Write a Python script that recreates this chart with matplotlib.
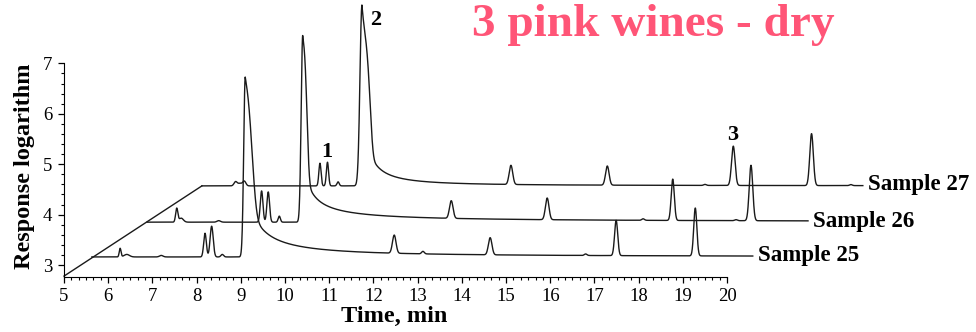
import matplotlib.pyplot as plt
import numpy as np

plt.rcParams["font.family"] = ["Liberation Serif", "DejaVu Serif"]

# --- data (plot coordinates, already shifted) ---
samples = ["Sample 25", "Sample 26", "Sample 27"]
t_start = [5.63, 6.88, 8.12]
t_end = [20.58, 21.83, 23.07]
baseline = [3.16, 3.85, 4.57]

# small peaks: (time, height above baseline, width)
peaks_25 = [(6.27, 0.17, 0.02), (6.42, 0.05, 0.06), (7.20, 0.03, 0.04),
            (8.19, 0.47, 0.03), (8.34, 0.61, 0.035), (8.58, 0.05, 0.03),
            (12.47, 0.36, 0.04), (13.12, 0.05, 0.03), (14.64, 0.34, 0.04),
            (16.80, 0.03, 0.03), (17.49, 0.70, 0.035), (19.28, 0.95, 0.035)]
peaks_26 = [(7.55, 0.27, 0.025), (7.65, 0.08, 0.05), (8.50, 0.03, 0.04),
            (9.47, 0.62, 0.03), (9.62, 0.60, 0.03), (9.87, 0.12, 0.025),
            (13.76, 0.35, 0.04), (15.93, 0.43, 0.04), (18.10, 0.03, 0.03),
            (18.77, 0.82, 0.035), (20.20, 0.02, 0.03), (20.54, 1.10, 0.04)]
peaks_27 = [(8.88, 0.08, 0.035), (8.98, 0.05, 0.05), (9.08, 0.09, 0.035),
            (10.79, 0.45, 0.025), (10.96, 0.47, 0.025), (11.20, 0.08, 0.025),
            (15.11, 0.38, 0.04), (17.29, 0.38, 0.04), (19.50, 0.02, 0.03),
            (20.14, 0.78, 0.04), (21.91, 1.03, 0.04), (22.80, 0.02, 0.03)]

# big tailing peaks: time, height, left width, right width, right exponent,
# tail height, tail scale, tail power
big_25 = (9.10, 3.57, 0.035, 0.147, 2.7, 1.5, 0.30, 1.2)
big_26 = (10.40, 3.71, 0.035, 0.09, 3.0, 1.3, 0.15, 0.9)
big_27 = (11.74, 3.59, 0.045, 0.17, 4.0, 1.6, 0.20, 1.4)

# perspective line from axis corner to start of the back trace
diag_x = [5.0, 8.12]
diag_y = [2.78, 4.57]

marks = ["1", "2", "3"]
mark_x = [10.95, 12.06, 20.13]
mark_y = [5.25, 7.86, 5.58]


def trace(t, base, peaks, big):
    y = np.full_like(t, base)
    for rt, h, w in peaks:
        y += h * np.exp(-0.5 * ((t - rt) / w) ** 2)
    rt, h, wl, wr, q, ta, tt, p = big
    d = t - rt
    dr = np.clip(d, 0, None)
    left = h * np.exp(-0.5 * (d / wl) ** 2)
    right = (h - ta) * np.exp(-0.5 * (dr / wr) ** q) + ta * (tt / (tt + dr)) ** p
    y += np.where(d < 0, left, right)
    return y


fig = plt.figure(figsize=(9.76, 3.32), dpi=100)
ax = fig.add_axes([64 / 976, 55.5 / 332, 912 / 976, 276.5 / 332])
ax.set_xlim(5, 25.63)
ax.set_ylim(2.772, 8.258)

peaks_all = [peaks_25, peaks_26, peaks_27]
big_all = [big_25, big_26, big_27]
for i in range(3):
    t = np.linspace(t_start[i], t_end[i], 4000)
    y = trace(t, baseline[i], peaks_all[i], big_all[i])
    ax.plot(t, y, color="#1a1a1a", lw=1.0, clip_on=False)
    ax.text(t_end[i] + 0.12, baseline[i] + 0.02, samples[i], fontsize=16.5,
            fontweight="bold", ha="left", va="center")

ax.plot(diag_x, diag_y, color="#1a1a1a", lw=1.0, clip_on=False)

for m, x, y in zip(marks, mark_x, mark_y):
    ax.text(x, y, m, fontsize=16, fontweight="bold", ha="center", va="center")

for s in ["top", "right"]:
    ax.spines[s].set_visible(False)
ax.spines["bottom"].set_bounds(5, 20)
ax.spines["left"].set_bounds(2.772, 7)
ax.set_xticks(np.arange(5, 21))
ax.set_xticks(np.arange(5, 20.001, 1 / 6), minor=True)
ax.set_yticks(np.arange(3, 8))
ax.set_yticks(np.arange(3, 7.001, 0.2), minor=True)
ax.tick_params(which="major", length=4.5, width=0.9, labelsize=13.5, pad=4)
ax.tick_params(which="minor", length=2.2, width=0.8)

ax.set_xlabel("Time, min", fontsize=17.5, fontweight="bold")
ax.xaxis.set_label_coords(0.3624, -0.146)
ax.xaxis.label.set_va("center")
ax.set_ylabel("Response logarithm", fontsize=17.5, fontweight="bold")
ax.yaxis.set_label_coords(-0.0428, 0.398)
ax.yaxis.label.set_va("center")

fig.text(472 / 976, 1 - 36 / 332, "3 pink wines - dry", fontsize=34,
         fontweight="bold", color="#FF5577", ha="left", va="baseline")

fig.savefig("out.png", dpi=100)
